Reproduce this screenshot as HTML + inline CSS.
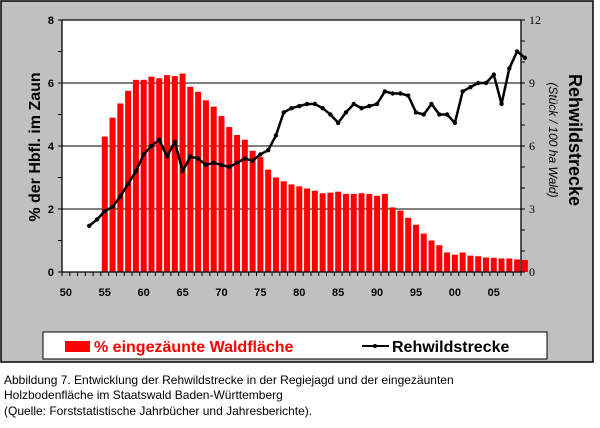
<!DOCTYPE html><html><head><meta charset="utf-8"><style>body{margin:0;background:#fff}svg{display:block}</style></head><body>
<svg width="600" height="428" xmlns="http://www.w3.org/2000/svg" font-family="Liberation Sans, Arial, sans-serif">
<rect x="1" y="1" width="592" height="361" fill="#c0c0c0" stroke="#000" stroke-width="1.5"/>
<rect x="62" y="20" width="459" height="252" fill="#fff"/>
<g stroke="#000" stroke-width="1">
<line x1="62" y1="83" x2="521" y2="83"/><line x1="62" y1="146" x2="521" y2="146"/><line x1="62" y1="209" x2="521" y2="209"/>
</g>
<g id="bars" fill="#f00"></g>
<g stroke="#000" stroke-width="1.3" fill="none">
<line x1="62" y1="20" x2="62" y2="272"/><line x1="521" y1="20" x2="521" y2="272"/><line x1="62" y1="272" x2="521" y2="272"/><line x1="62" y1="20" x2="521" y2="20"/>
</g>
<g id="ticks" stroke="#000" stroke-width="1"></g>
<polyline id="line" fill="none" stroke="#000" stroke-width="2.5" stroke-linejoin="round"/>
<g id="dots" fill="#000"></g>
<g font-size="11" font-weight="bold" text-anchor="end">
<text x="54" y="24">8</text><text x="54" y="87">6</text><text x="54" y="150">4</text><text x="54" y="213">2</text><text x="54" y="276">0</text>
</g>
<g font-size="12" text-anchor="start" font-family="Liberation Serif, serif">
<text x="529" y="24">12</text><text x="529" y="87">9</text><text x="529" y="150">6</text><text x="529" y="213">3</text><text x="529" y="276">0</text>
</g>
<g id="xl" font-size="11" font-weight="bold" text-anchor="middle"></g>
<text transform="translate(40,147) rotate(-90)" font-size="16" font-weight="bold" text-anchor="middle">% der Hbfl. im Zaun</text>
<text transform="translate(569,140) rotate(90)" font-size="18" font-weight="bold" text-anchor="middle">Rehwildstrecke</text>
<text transform="translate(549,140) rotate(90)" font-size="12" font-style="italic" text-anchor="middle">(Stück / 100 ha Wald)</text>
<rect x="43" y="332" width="504" height="27" fill="#fff" stroke="#000" stroke-width="1"/>
<rect x="65" y="341" width="25" height="11" fill="#f00"/>
<text x="94" y="352" font-size="16" font-weight="bold" fill="#f00">% eingezäunte Waldfläche</text>
<line x1="362" y1="346" x2="389" y2="346" stroke="#000" stroke-width="2"/><circle cx="375" cy="346" r="2"/>
<text x="392" y="352" font-size="16" font-weight="bold">Rehwildstrecke</text>
<g font-size="12">
<text x="4" y="384">Abbildung 7. Entwicklung der Rehwildstrecke in der Regiejagd und der eingezäunten</text>
<text x="4" y="399">Holzbodenfläche im Staatswald Baden-Württemberg</text>
<text x="4" y="415">(Quelle: Forststatistische Jahrbücher und Jahresberichte).</text>
</g>
</svg>
<script>
var W=459/59,x0=62,ns="http://www.w3.org/2000/svg";
function cx(y){return x0+W*(y-50+0.5)}
var bv=[4.3,4.9,5.35,5.75,6.1,6.1,6.2,6.15,6.25,6.22,6.3,5.88,5.72,5.45,5.25,4.95,4.6,4.35,4.2,3.85,3.65,3.25,3.0,2.88,2.78,2.72,2.65,2.58,2.5,2.52,2.55,2.48,2.48,2.5,2.48,2.42,2.48,2.05,1.95,1.72,1.5,1.22,1.0,0.85,0.62,0.55,0.62,0.52,0.5,0.46,0.45,0.43,0.43,0.4,0.38];
var g=document.getElementById('bars');
bv.forEach(function(v,i){var r=document.createElementNS(ns,'rect');var h=v*31.5;r.setAttribute('x',cx(55+i)-3);r.setAttribute('width',6);r.setAttribute('y',272-h);r.setAttribute('height',h);g.appendChild(r)});
var lv=[2.2,2.5,2.9,3.1,3.6,4.2,4.8,5.6,6.0,6.3,5.5,6.2,4.8,5.5,5.4,5.1,5.2,5.1,5.0,5.2,5.4,5.3,5.6,5.8,6.5,7.6,7.8,7.9,8.0,8.0,7.8,7.5,7.1,7.6,8.0,7.8,7.9,8.0,8.6,8.5,8.5,8.4,7.6,7.5,8.0,7.5,7.5,7.1,8.6,8.8,9.0,9.0,9.4,8.0,9.7,10.5,10.2];
var pts=[],d=document.getElementById('dots');
lv.forEach(function(v,i){var x=cx(53+i),y=272-v*21;pts.push(x+','+y);var c=document.createElementNS(ns,'circle');c.setAttribute('cx',x);c.setAttribute('cy',y);c.setAttribute('r',2.2);d.appendChild(c)});
document.getElementById('line').setAttribute('points',pts.join(' '));
var t=document.getElementById('ticks'),s='';
for(var i=0;i<=59;i++){var x=x0+W*i;s+='<line x1="'+x+'" y1="272" x2="'+x+'" y2="276"/>'}
for(var k=0;k<=8;k++){var y=272-k*31.5;s+='<line x1="58" y1="'+y+'" x2="62" y2="'+y+'"/>'}
for(var k=0;k<=12;k++){var y=272-k*21;s+='<line x1="521" y1="'+y+'" x2="525" y2="'+y+'"/>'}
t.innerHTML=s;
var xl=document.getElementById('xl'),lab=['50','55','60','65','70','75','80','85','90','95','00','05'],q='';
lab.forEach(function(l,i){q+='<text x="'+cx(50+5*i)+'" y="296">'+l+'</text>'});
xl.innerHTML=q;
</script>
</body></html>
